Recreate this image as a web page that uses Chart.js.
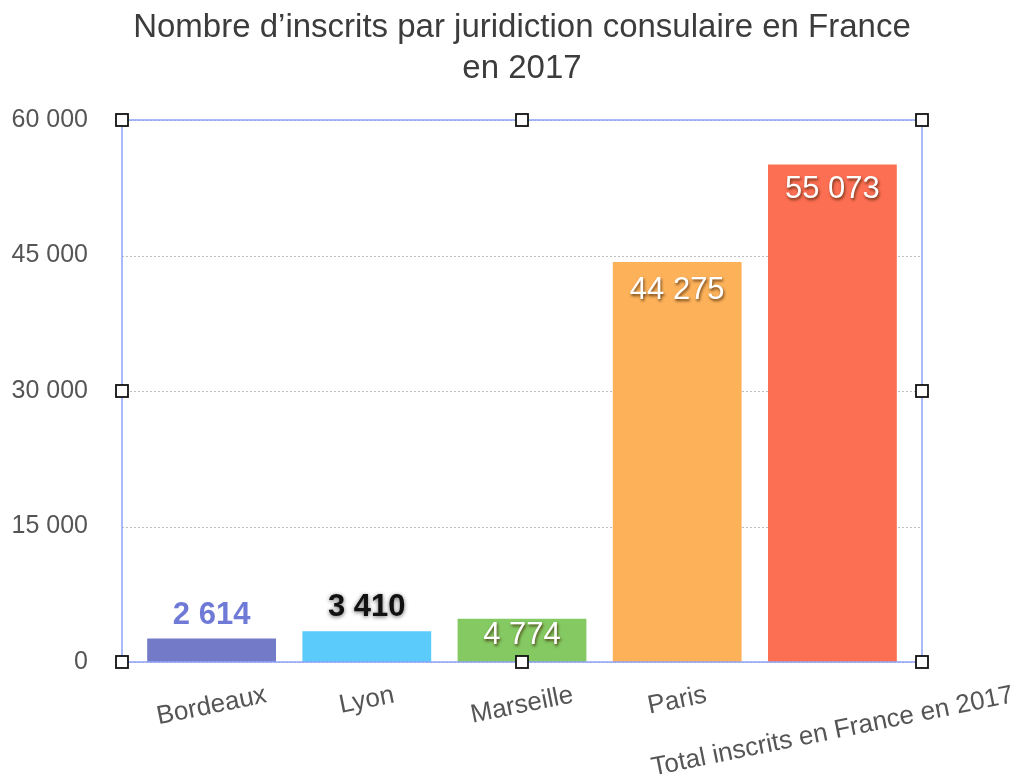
<!DOCTYPE html>
<html>
<head>
<meta charset="utf-8">
<script src="https://cdn.jsdelivr.net/npm/chart.js@4.4.0/dist/chart.umd.min.js"></script>
<style>
  html, body { margin: 0; padding: 0; background: #fff; }
  #wrap { width: 1021px; height: 778px; }
</style>
</head>
<body>
<div id="wrap"><canvas id="chart"></canvas></div>
<script>
// data
const categories = ['Bordeaux', 'Lyon', 'Marseille', 'Paris', 'Total inscrits en France en 2017'];
const inscrits = [2614, 3410, 4774, 44275, 55073];
const barColors = ['#737bc8', '#5acbfa', '#84c962', '#fdb25a', '#fd6f53'];
const titleLines = ['Nombre d\u2019inscrits par juridiction consulaire en France', 'en 2017'];
const yTicks = [0, 15000, 30000, 45000, 60000];

// value label placement (px from bar top) and look
const labelOffsets = [-23, -24, 17, 28, 25];
const labelColors = ['#6f79d6', '#111', '#fff', '#fff', '#fff'];
const labelBold = [true, true, false, false, false];

const FONT = '"Liberation Sans", Arial, sans-serif';
const FRAME_INSET = 12; // plot frame sticks out a bit past the bars area

function formatNombre(v) {
    return String(v).replace(/\B(?=(\d{3})+(?!\d))/g, ' ');
}

const decorPlugin = {
    id: 'decor',
    beforeDatasetsDraw(chart) {
        // dotted grid lines across the whole frame
        const ctx = chart.ctx;
        const area = chart.chartArea;
        const yScale = chart.scales.y;
        ctx.save();
        ctx.strokeStyle = '#bdbdbd';
        ctx.lineWidth = 1;
        ctx.setLineDash([2, 2]);
        yTicks.forEach(v => {
            const y = Math.round(yScale.getPixelForValue(v)) + 0.5;
            ctx.beginPath();
            ctx.moveTo(area.left - FRAME_INSET, y);
            ctx.lineTo(area.right + FRAME_INSET, y);
            ctx.stroke();
        });
        ctx.restore();
    },
    afterDraw(chart) {
        const ctx = chart.ctx;
        const area = chart.chartArea;
        const xScale = chart.scales.x;
        const yScale = chart.scales.y;
        const cx = (area.left + area.right) / 2;
        const fl = area.left - FRAME_INSET, fr = area.right + FRAME_INSET;
        const ft = yScale.getPixelForValue(60000), fb = yScale.getPixelForValue(0);

        ctx.save();
        // title
        ctx.fillStyle = '#3c3c3c';
        ctx.font = '33px ' + FONT;
        ctx.textAlign = 'center';
        ctx.textBaseline = 'middle';
        ctx.fillText(titleLines[0], cx, 28);
        ctx.fillText(titleLines[1], cx, 69);

        // category labels, tilted
        const angle = -11.5 * Math.PI / 180;
        ctx.font = '26px ' + FONT;
        ctx.fillStyle = '#555';
        categories.forEach((c, i) => {
            const x = xScale.getPixelForValue(i);
            const w = ctx.measureText(c).width;
            const y = fb + 33 + (w / 2) * Math.sin(-angle);
            ctx.save();
            ctx.translate(x, y);
            ctx.rotate(angle);
            ctx.fillText(c, 0, 0);
            ctx.restore();
        });

        // value labels
        const meta = chart.getDatasetMeta(0);
        meta.data.forEach((bar, i) => {
            const txt = formatNombre(inscrits[i]);
            ctx.save();
            if (i === 1) {
                ctx.shadowColor = 'rgba(0,0,0,0.6)';
                ctx.shadowBlur = 4;
                ctx.shadowOffsetY = 1;
            } else if (i > 1) {
                ctx.shadowColor = 'rgba(60,30,0,0.75)';
                ctx.shadowBlur = 3;
                ctx.shadowOffsetX = 1;
                ctx.shadowOffsetY = 2;
            }
            ctx.fillStyle = labelColors[i];
            ctx.font = (labelBold[i] ? 'bold ' : '') + '31px ' + FONT;
            ctx.fillText(txt, bar.x, bar.y + labelOffsets[i]);
            ctx.restore();
        });

        // plot frame
        ctx.strokeStyle = '#8fa2f7';
        ctx.lineWidth = 1.5;
        ctx.strokeRect(fl, ft, fr - fl, fb - ft);

        // selection handles
        const xs = [fl, cx, fr];
        const ys = [ft, (ft + fb) / 2, fb];
        ctx.fillStyle = '#fff';
        ctx.strokeStyle = '#111';
        ctx.lineWidth = 1.8;
        xs.forEach((hx, a) => {
            ys.forEach((hy, b) => {
                if (a === 1 && b === 1) return;
                ctx.fillRect(hx - 6, hy - 6, 12, 12);
                ctx.strokeRect(hx - 6, hy - 6, 12, 12);
            });
        });
        ctx.restore();
    }
};

new Chart(document.getElementById('chart'), {
    type: 'bar',
    data: {
        labels: categories,
        datasets: [{
            data: inscrits,
            backgroundColor: barColors,
            borderWidth: 0,
            barPercentage: 0.83,
            categoryPercentage: 1
        }]
    },
    options: {
        responsive: true,
        maintainAspectRatio: false,
        animation: false,
        events: [],
        layout: {
            padding: { top: 120, left: 0, right: 111, bottom: 116 }
        },
        plugins: {
            legend: { display: false },
            tooltip: { enabled: false },
            title: { display: false }
        },
        scales: {
            x: { display: false },
            y: {
                min: 0,
                max: 60000,
                afterFit(scale) { scale.width = 134; },
                afterBuildTicks(scale) { scale.ticks = yTicks.map(v => ({ value: v })); },
                border: { display: false },
                grid: { display: false, drawTicks: false },
                ticks: {
                    padding: 46,
                    color: '#555',
                    font: { family: FONT, size: 25 },
                    callback: v => formatNombre(v)
                }
            }
        }
    },
    plugins: [decorPlugin]
});
</script>
</body>
</html>
